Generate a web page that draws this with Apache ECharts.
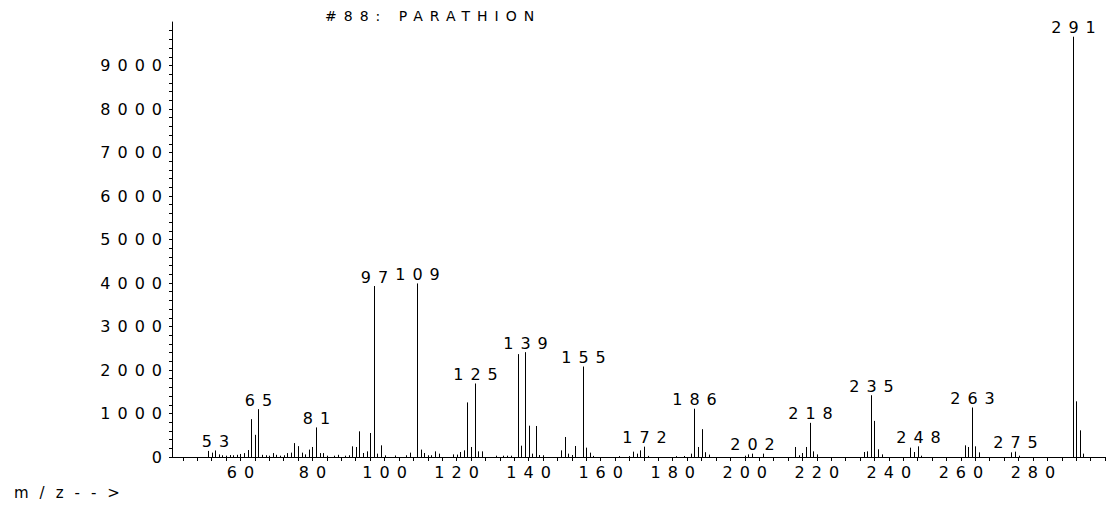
<!DOCTYPE html>
<html>
<head>
<meta charset="utf-8">
<title>#88: PARATHION</title>
<script src="https://cdn.jsdelivr.net/npm/echarts@6/dist/echarts.min.js"></script>
<style>
  html, body { margin: 0; padding: 0; background: #fff; }
  #chart { width: 1116px; height: 507px; }
  /* the spectrum printout uses a very wide, spaced-out font */
  #chart text { letter-spacing: 7px; }
  /* the m/z caption is the only 15px text and is spaced even wider */
  #chart text[style*="15px"] { letter-spacing: 11px; }
</style>
</head>
<body>
<div id="chart"></div>
<script>
// m/z of every line in the spectrum
const masses = [
  51, 52, 53, 54, 55, 56, 57, 58, 59, 60, 61, 62, 63, 64, 65, 66, 67, 68, 69, 70,
  71, 72, 73, 74, 75, 76, 77, 78, 79, 80, 81, 82, 83, 84, 86, 87, 89, 90,
  91, 92, 93, 94, 95, 96, 97, 98, 99, 100, 103, 106, 107, 109, 110, 111, 112, 113,
  114, 115, 119, 120, 121, 122, 123, 124, 125, 126, 127, 131, 133, 134, 135,
  137, 138, 139, 140, 141, 142, 143, 144, 149, 150, 151, 152, 153, 155, 156, 157, 158,
  165, 168, 169, 170, 171, 172, 173, 181, 183, 185, 186, 187, 188, 189, 190,
  200, 201, 202, 205, 214, 215, 216, 217, 218, 219, 220,
  233, 234, 235, 236, 237, 238, 246, 247, 248, 249,
  261, 262, 263, 264, 265, 274, 275, 276, 291, 292, 293, 294
];

// abundance for each mass above
const abundances = [
  140, 100, 150, 60, 40, 30, 45, 40, 50, 70, 90, 160, 870, 510, 1100, 50, 40, 30, 90, 50,
  30, 40, 90, 100, 320, 250, 100, 60, 170, 230, 680, 90, 90, 30, 30, 50, 30, 40,
  245, 230, 590, 92, 130, 552, 3930, 77, 268, 38, 35, 40, 100, 3990, 170, 92, 40, 40,
  130, 77, 60, 55, 115, 153, 1255, 230, 1690, 130, 130, 30, 30, 30, 30,
  2365, 260, 2410, 720, 77, 713, 46, 40, 153, 460, 77, 46, 253, 2080, 215, 100, 25,
  20, 20, 123, 77, 153, 238, 25, 20, 23, 77, 1110, 230, 640, 110, 55,
  30, 60, 77, 77, 230, 40, 92, 230, 785, 130, 60,
  115, 130, 1420, 830, 177, 60, 215, 115, 245, 30,
  268, 230, 1138, 245, 107, 107, 123, 30, 9662, 1280, 613, 77
];

// lines that carry their m/z above them
const labeledMasses = [53, 65, 81, 97, 109, 125, 139, 155, 172, 186, 202, 218, 235, 248, 263, 275, 291];

const xLabels = [60, 80, 100, 120, 140, 160, 180, 200, 220, 240, 260, 280];
const yLabels = [0, 1000, 2000, 3000, 4000, 5000, 6000, 7000, 8000, 9000];

const xTicks = [];
for (let v = 44; v <= 300; v += 4) xTicks.push(v);
const yTicks = [];
for (let v = 0; v <= 9800; v += 200) yTicks.push(v);

const FONT = 'DejaVu Sans';
const LETTER_GAP = 7;

const chart = echarts.init(document.getElementById('chart'), null, { renderer: 'svg' });

const labelSet = new Set(labeledMasses);
const peaks = masses.map((m, i) => [m, abundances[i]]);

function renderPeak(params, api) {
  const m = api.value(0);
  const top = api.coord([m, api.value(1)]);
  const base = api.coord([m, 0]);
  const x = Math.round(top[0]) + 0.5;
  const children = [
    {
      type: 'line',
      shape: { x1: x, y1: base[1], x2: x, y2: top[1] },
      style: { stroke: '#000', lineWidth: 1 }
    }
  ];
  if (labelSet.has(m)) {
    children.push({
      type: 'text',
      x: x + LETTER_GAP / 2,
      y: top[1] - 1,
      style: {
        text: String(m),
        textAlign: 'center',
        textVerticalAlign: 'bottom',
        fontFamily: FONT,
        fontSize: 16,
        fill: '#000'
      }
    });
  }
  return { type: 'group', children };
}

const option = {
  animation: false,
  backgroundColor: '#fff',
  title: [
    {
      text: '#88: PARATHION',
      left: 320,
      top: 4,
      textStyle: { fontFamily: FONT, fontSize: 14, fontWeight: 'normal', color: '#000' }
    },
    {
      text: 'm/z-->',
      left: 9,
      top: 480,
      textStyle: { fontFamily: FONT, fontSize: 15, fontWeight: 'normal', color: '#000' }
    }
  ],
  grid: {
    left: 172,
    right: 11,
    top: 22,
    bottom: 50,
    containLabel: false,
    outerBoundsMode: 'none'
  },
  xAxis: {
    type: 'value',
    min: 41,
    max: 300,
    axisLine: { onZero: false, lineStyle: { color: '#000', width: 1 } },
    axisTick: { customValues: xTicks, length: 4, lineStyle: { color: '#000' } },
    axisLabel: {
      customValues: xLabels,
      margin: 7,
      padding: [0, 0, 0, LETTER_GAP],
      fontFamily: FONT,
      fontSize: 16,
      color: '#000',
      formatter: v => String(v)
    },
    splitLine: { show: false }
  },
  yAxis: {
    type: 'value',
    min: 0,
    max: 10000,
    axisLine: { show: true, lineStyle: { color: '#000', width: 1 } },
    axisTick: { show: true, customValues: yTicks, length: 3, lineStyle: { color: '#000' } },
    axisLabel: {
      customValues: yLabels,
      margin: 3,
      fontFamily: FONT,
      fontSize: 16,
      color: '#000',
      formatter: v => String(v)
    },
    splitLine: { show: false }
  },
  series: [
    {
      type: 'custom',
      renderItem: renderPeak,
      data: peaks,
      silent: true
    }
  ]
};

chart.setOption(option);
</script>
</body>
</html>
